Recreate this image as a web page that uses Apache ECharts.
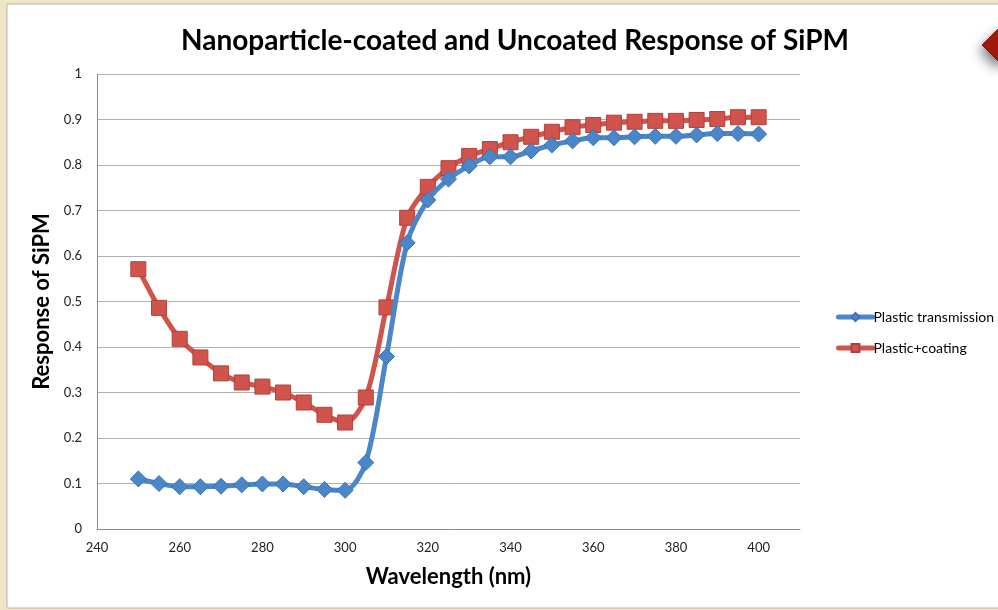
<!DOCTYPE html>
<html>
<head>
<meta charset="utf-8">
<script src="https://cdn.jsdelivr.net/npm/echarts@6/dist/echarts.min.js"></script>
<style>
  html, body { margin: 0; padding: 0; background: #efe5c5; }
  #main { width: 998px; height: 610px; }
</style>
</head>
<body>
<div id="main"></div>
<script>
// wavelength in nm
var wavelengths = [250, 255, 260, 265, 270, 275, 280, 285, 290, 295, 300,
  305, 310, 315, 320, 325, 330, 335, 340, 345, 350,
  355, 360, 365, 370, 375, 380, 385, 390, 395, 400];

var plasticTransmission = [0.110, 0.100, 0.093, 0.093, 0.094, 0.097, 0.099, 0.099, 0.093, 0.087, 0.085,
  0.146, 0.379, 0.629, 0.723, 0.769, 0.798, 0.818, 0.818, 0.831, 0.844,
  0.853, 0.860, 0.860, 0.862, 0.863, 0.863, 0.866, 0.869, 0.869, 0.868];

var plasticCoating = [0.571, 0.486, 0.418, 0.377, 0.342, 0.322, 0.313, 0.300, 0.278, 0.251, 0.234,
  0.289, 0.487, 0.684, 0.752, 0.793, 0.820, 0.835, 0.850, 0.862, 0.873,
  0.883, 0.888, 0.893, 0.895, 0.897, 0.897, 0.899, 0.901, 0.905, 0.905];

var seriesNames = ['Plastic transmission', 'Plastic+coating'];

function pairs(ys) {
  return wavelengths.map(function (x, i) { return [x, ys[i]]; });
}

var chart = echarts.init(document.getElementById('main'));

var option = {
  backgroundColor: '#efe5c5',
  animation: false,
  graphic: [
    {
      type: 'rect',
      shape: { x: 7, y: 4, width: 1000, height: 604 },
      style: { fill: '#ffffff', stroke: '#b4b4b4', lineWidth: 1 },
      z: -10
    },
    {
      type: 'polygon',
      shape: { points: [[999, 28], [1016, 45], [999, 62], [982, 45]] },
      style: {
        fill: '#a4190c', stroke: '#8a1208', lineWidth: 1,
        shadowBlur: 12, shadowColor: 'rgba(0,0,0,0.5)', shadowOffsetX: -2, shadowOffsetY: 6
      },
      z: -5
    }
  ],
  title: {
    text: 'Nanoparticle-coated and Uncoated Response of SiPM',
    left: 510,
    top: 22,
    textAlign: 'center',
    textStyle: { fontFamily: 'Lato', fontWeight: 'bold', fontSize: 28, color: '#000' }
  },
  legend: {
    orient: 'vertical',
    left: 836,
    top: 310,
    padding: 0,
    itemWidth: 34,
    itemHeight: 10,
    itemGap: 17,
    data: seriesNames,
    lineStyle: { width: 5, cap: 'round' },
    textStyle: { fontFamily: 'Lato', fontSize: 14, color: '#000', padding: [0, 0, 0, -4] }
  },
  grid: { left: 97, right: 198, top: 74, bottom: 81 },
  xAxis: {
    type: 'value',
    min: 240,
    max: 410,
    interval: 20,
    name: 'Wavelength (nm)',
    nameLocation: 'middle',
    nameGap: 37,
    nameTextStyle: { fontFamily: 'Lato', fontWeight: 'bold', fontSize: 22, color: '#000' },
    axisLine: { show: true, onZero: false, lineStyle: { color: '#8c8c8c', width: 1 } },
    axisTick: { show: false },
    splitLine: { show: false },
    axisLabel: { showMaxLabel: false, margin: 12, fontFamily: 'Lato', fontSize: 13, color: '#222' }
  },
  yAxis: {
    type: 'value',
    min: 0,
    max: 1,
    interval: 0.1,
    name: 'Response of SiPM',
    nameLocation: 'middle',
    nameGap: 39,
    nameTextStyle: { fontFamily: 'Lato', fontWeight: 'bold', fontSize: 22, color: '#000' },
    axisLine: { show: true, lineStyle: { color: '#8c8c8c', width: 1 } },
    axisTick: { show: false },
    splitLine: { show: true, lineStyle: { color: '#b0b0b0', width: 1 } },
    axisLabel: { margin: 15, fontFamily: 'Lato', fontSize: 13, color: '#222' }
  },
  series: [
    {
      name: seriesNames[0],
      type: 'line',
      data: pairs(plasticTransmission),
      smooth: 0.3,
      symbol: 'diamond',
      symbolSize: 16,
      lineStyle: { color: '#4a86c8', width: 5 },
      itemStyle: { color: '#4a86c8', borderColor: '#3b73b3', borderWidth: 1 },
      z: 3
    },
    {
      name: seriesNames[1],
      type: 'line',
      data: pairs(plasticCoating),
      smooth: 0.3,
      symbol: 'rect',
      symbolSize: 15,
      lineStyle: { color: '#d0534c', width: 5 },
      itemStyle: { color: '#d0534c', borderColor: '#b3403a', borderWidth: 1 },
      z: 2
    }
  ]
};

chart.setOption(option);
</script>
</body>
</html>
